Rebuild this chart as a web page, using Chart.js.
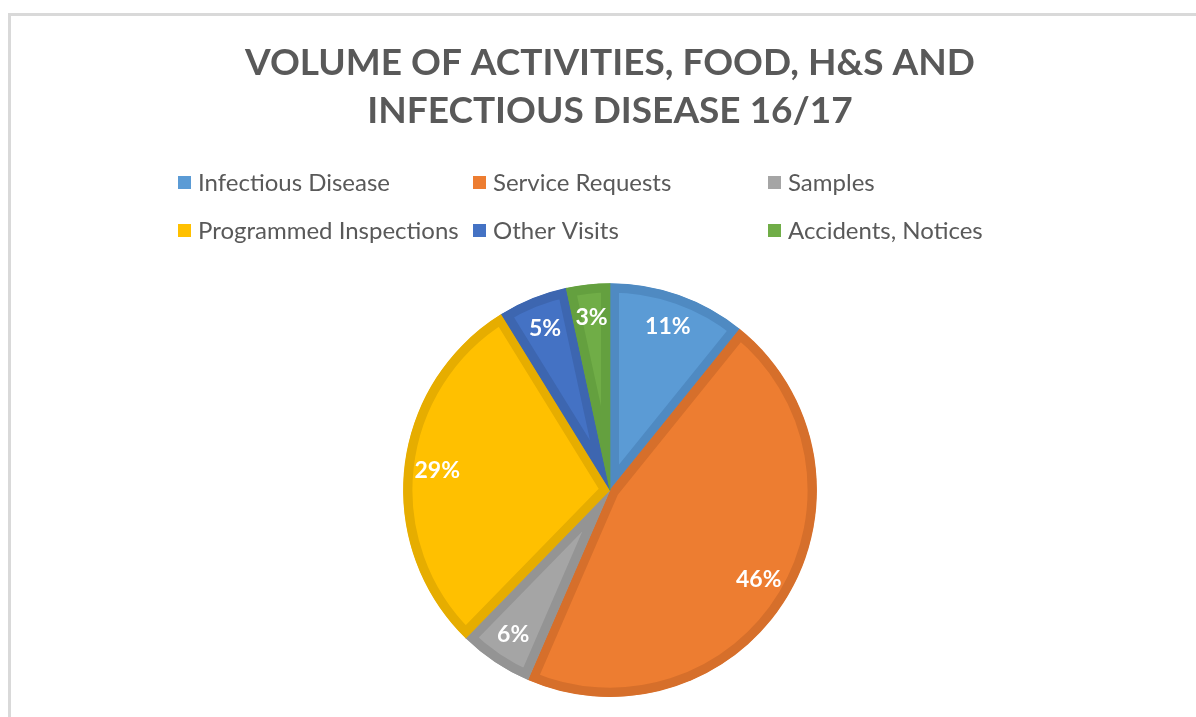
<!DOCTYPE html>
<html>
<head>
<meta charset="utf-8">
<script src="https://cdn.jsdelivr.net/npm/chart.js@4"></script>
<style>
  html, body { margin: 0; padding: 0; background: #fff; overflow: hidden; }
  #frame { position: absolute; left: 8px; top: 13px; width: 1200px; height: 720px;
           border-left: 3px solid #d9d9d9; border-top: 3px solid #d9d9d9; }
  #wrap { position: absolute; left: 0; top: 0; width: 1196px; height: 717px; }
</style>
</head>
<body>
<div id="frame"></div>
<div id="wrap"><canvas id="pieChart"></canvas></div>
<script>
// data (share of activities, %)
const categories = ["Infectious Disease", "Service Requests", "Samples",
                    "Programmed Inspections", "Other Visits", "Accidents, Notices"];
const shares = [10.8, 45.7, 5.8, 28.9, 5.4, 3.4];
const titleLines = ["VOLUME OF ACTIVITIES, FOOD, H&S AND", "INFECTIOUS DISEASE 16/17"];

const fillColors = ["#5b9bd5", "#ed7d31", "#a5a5a5", "#ffc000", "#4472c4", "#70ad47"];
const edgeColors = ["#4f8ac2", "#d66f2b", "#949494", "#e6ad00", "#3d66b0", "#64a03f"];

// legend drawn as a 3-column grid, like the original
const legendGrid = {
    id: "legendGrid",
    afterDraw(chart) {
        const ctx = chart.ctx;
        const colX = [178, 473, 768];
        const rowY = [182, 230];
        ctx.save();
        ctx.font = "24px Lato";
        ctx.textBaseline = "middle";
        ctx.textAlign = "left";
        chart.data.labels.forEach((label, i) => {
            let x = colX[i % 3];
            let y = rowY[Math.floor(i / 3)];
            ctx.fillStyle = fillColors[i];
            ctx.fillRect(x, y - 6, 13, 13);
            ctx.fillStyle = "#595959";
            ctx.fillText(label, x + 20, y + 1);
        });
        ctx.restore();
    }
};

// percentage labels inside the slices
const sliceLabels = {
    id: "sliceLabels",
    afterDatasetsDraw(chart) {
        const ctx = chart.ctx;
        const meta = chart.getDatasetMeta(0);
        const values = chart.data.datasets[0].data;
        const total = values.reduce((a, b) => a + b, 0);
        ctx.save();
        ctx.font = "bold 23px Lato";
        ctx.fillStyle = "#ffffff";
        ctx.textAlign = "center";
        ctx.textBaseline = "middle";
        meta.data.forEach((arc, i) => {
            const p = arc.getProps(["x", "y", "startAngle", "endAngle", "outerRadius"], true);
            const mid = (p.startAngle + p.endAngle) / 2;
            const r = p.outerRadius * 0.84;
            const pct = Math.round(values[i] / total * 100) + "%";
            ctx.fillText(pct, p.x + Math.cos(mid) * r, p.y + Math.sin(mid) * r);
        });
        ctx.restore();
    }
};

let ctx = document.getElementById("pieChart").getContext("2d");

new Chart(ctx, {
    type: "pie",
    data: {
        labels: categories,
        datasets: [
            {
                data: shares,
                backgroundColor: fillColors,
                borderColor: edgeColors,
                borderWidth: 9,
                borderAlign: "inner",
                hoverOffset: 0,
            },
        ],
    },
    options: {
        responsive: true,
        maintainAspectRatio: false,
        animation: false,
        layout: {
            padding: { top: 15, bottom: 20, left: 24, right: 0 },
        },
        plugins: {
            legend: { display: false },
            tooltip: { enabled: false },
            title: {
                display: true,
                text: titleLines,
                color: "#595959",
                font: { family: "Lato", size: 37, weight: "bold", lineHeight: 1.3 },
                padding: { top: 24, bottom: 148 },
            },
        },
    },
    plugins: [legendGrid, sliceLabels],
});
</script>
</body>
</html>
